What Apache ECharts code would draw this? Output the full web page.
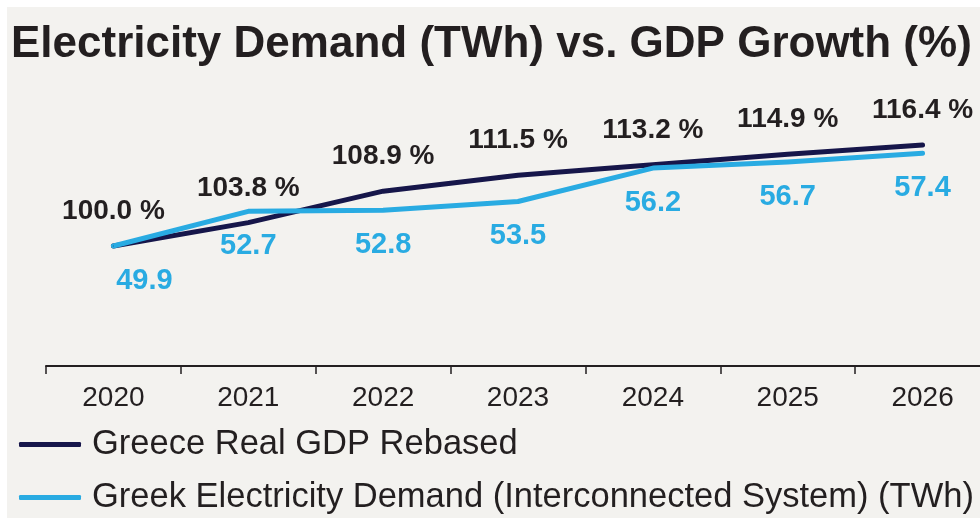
<!DOCTYPE html>
<html>
<head>
<meta charset="utf-8">
<script src="https://cdn.jsdelivr.net/npm/echarts@6/dist/echarts.min.js"></script>
<style>
  html, body { margin: 0; padding: 0; background: #ffffff; overflow: hidden; width: 980px; height: 518px; }
  #chart { position: absolute; left: 7px; top: 7px; width: 990px; height: 511px; }
</style>
</head>
<body>
<div id="chart"></div>
<script>
const titleText = 'Electricity Demand (TWh) vs. GDP Growth (%)';
const years = ['2020', '2021', '2022', '2023', '2024', '2025', '2026'];
const gdpName = 'Greece Real GDP Rebased';
const gdpValues = [100.0, 103.8, 108.9, 111.5, 113.2, 114.9, 116.4];
const demandName = 'Greek Electricity Demand (Interconnected System) (TWh)';
const demandValues = [49.9, 52.7, 52.8, 53.5, 56.2, 56.7, 57.4];

const navy = '#16164a';
const blue = '#29abe2';
const ink = '#231f20';
const font = 'Liberation Sans, Arial, sans-serif';

const chart = echarts.init(document.getElementById('chart'), null, { renderer: 'canvas' });

const demandData = demandValues.map((v, i) => i === 0
  ? { value: v, label: { offset: [31, 0] } }
  : v);

chart.setOption({
  backgroundColor: '#f3f2ef',
  animation: false,
  title: {
    text: titleText,
    left: 4,
    top: 16,
    padding: 0,
    textStyle: { fontFamily: font, fontSize: 44, fontWeight: 'bold', color: ink }
  },
  legend: {
    orient: 'vertical',
    left: 12,
    top: 420,
    padding: 0,
    itemGap: 18,
    itemWidth: 62,
    itemHeight: 5,
    icon: 'roundRect',
    selectedMode: false,
    textStyle: { fontFamily: font, fontSize: 34.5, color: ink, padding: [0, 0, 0, 6] },
    data: [gdpName, demandName]
  },
  grid: { left: 39, right: 7, top: 93, bottom: 152, containLabel: false },
  xAxis: {
    type: 'category',
    data: years,
    boundaryGap: true,
    axisLine: { lineStyle: { color: ink, width: 2 } },
    axisTick: { show: true, length: 8, lineStyle: { color: ink, width: 1.5 } },
    axisLabel: { fontFamily: font, fontSize: 28, color: ink, margin: 18 },
    splitLine: { show: false }
  },
  yAxis: [
    { type: 'value', min: 80.52, max: 123.7, show: false, splitLine: { show: false } },
    { type: 'value', min: 40.19, max: 61.71, show: false, splitLine: { show: false } }
  ],
  series: [
    {
      name: gdpName,
      type: 'line',
      yAxisIndex: 0,
      data: gdpValues,
      symbol: 'circle',
      symbolSize: 1,
      showSymbol: true,
      color: navy,
      itemStyle: { color: navy },
      lineStyle: { color: navy, width: 5, cap: 'round', join: 'round' },
      label: {
        show: true,
        position: 'top',
        distance: 20,
        fontFamily: font,
        fontSize: 28,
        fontWeight: 'bold',
        color: ink,
        formatter: p => Number(p.value).toFixed(1) + ' %'
      }
    },
    {
      name: demandName,
      type: 'line',
      yAxisIndex: 1,
      data: demandData,
      symbol: 'circle',
      symbolSize: 1,
      showSymbol: true,
      color: blue,
      itemStyle: { color: blue },
      lineStyle: { color: blue, width: 5, cap: 'round', join: 'round' },
      label: {
        show: true,
        position: 'bottom',
        distance: 20,
        fontFamily: font,
        fontSize: 29,
        fontWeight: 'bold',
        color: blue,
        formatter: p => Number(p.value).toFixed(1)
      }
    }
  ]
});
</script>
</body>
</html>
